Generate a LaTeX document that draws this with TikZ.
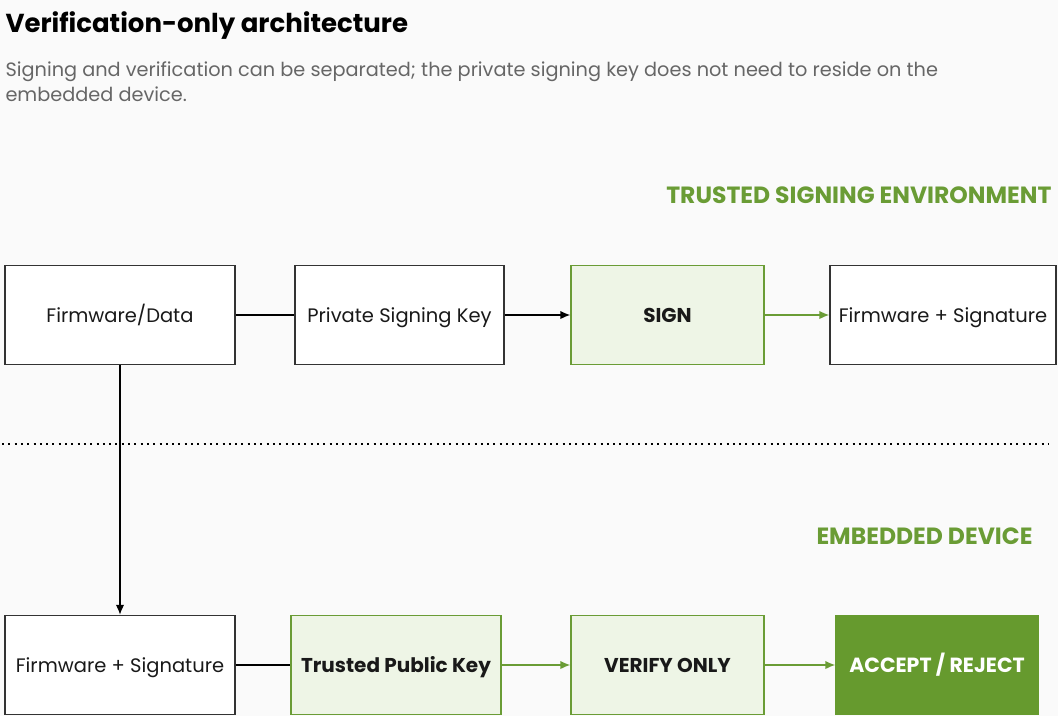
\documentclass[tikz,border=0pt]{standalone}
\usepackage{fontspec}
\setmainfont{Poppins}
\usepackage{xcolor}
\usepackage{tikz}
\usetikzlibrary{positioning,arrows.meta}

\definecolor{pagebg}{HTML}{FAFAFA}
\definecolor{boxline}{HTML}{333333}
\definecolor{leaf}{HTML}{6A9C35}
\definecolor{leaflight}{HTML}{EEF5E6}
\definecolor{leafdark}{HTML}{669A2E}
\definecolor{subgray}{HTML}{666666}

\tikzset{
  box/.style={draw=boxline, line width=1.4pt, fill=white, minimum height=99pt,
    inner sep=0pt, text height=17pt, text depth=2pt,
    font=\fontsize{19.5}{22}\selectfont, text=black!90},
  greenbox/.style={box, draw=leaf, fill=leaflight, font=\fontsize{20}{24}\selectfont\bfseries},
  solidbox/.style={box, draw=leafdark, fill=leafdark, text=white, font=\fontsize{20.5}{24}\selectfont\bfseries},
  zone/.style={anchor=east, text=leaf, font=\fontsize{23.5}{27}\selectfont\bfseries},
  link/.style={line width=1.4pt, draw=black},
  flow/.style={link, -{Latex[length=10pt,width=8.5pt]}},
  greenflow/.style={line width=1.4pt, draw=leaf, -{Latex[length=10pt,width=8.5pt]}, color=leaf}
}

\begin{document}
\begin{tikzpicture}[x=1pt,y=-1pt]
\fill[pagebg] (0,0) rectangle (1058,716);
\useasboundingbox (0,0) rectangle (1058,716);

% heading
\node[anchor=west, font=\fontsize{26}{30}\selectfont\bfseries] (title) at (2,26) {Verification-only architecture};
\node[anchor=north west, align=left, text=subgray, font=\fontsize{19.3}{25}\selectfont] (subtitle) at (2,58)
  {Signing and verification can be separated; the private signing key does not need to reside on the\\embedded device.};

% zone labels
\node[zone] (trusted) at (1055,195) {TRUSTED SIGNING ENVIRONMENT};
\node[zone] (device) at (1036,536) {EMBEDDED DEVICE};

% separator
\coordinate (sepL) at (2,444);
\coordinate (sepR) at (1048,444);
\draw[line width=2pt, dash pattern=on 2pt off 4.3pt] (sepL) -- (sepR);

% signing side
\node[box, minimum width=230pt] (data) at (120,315) {Firmware/Data};
\node[box, minimum width=209pt] (privkey) at (399.5,315) {Private Signing Key};
\node[greenbox, minimum width=193pt] (sign) at (667.5,315) {SIGN};
\node[box, minimum width=226pt] (signed) at (943,315) {Firmware + Signature};

% device side
\node[box, minimum width=230pt] (received) at (120,665) {Firmware + Signature};
\node[greenbox, minimum width=210pt] (pubkey) at (396,665) {Trusted Public Key};
\node[greenbox, minimum width=193pt] (verify) at (667.5,665) {VERIFY ONLY};
\node[solidbox, minimum width=202pt] (result) at (937,665) {ACCEPT / REJECT};

% connectors
\draw[link] (data) -- (privkey);
\draw[flow] (privkey) -- (sign);
\draw[greenflow] (sign) -- (signed);
\draw[flow] (data) -- (received);
\draw[link] (received) -- (pubkey);
\draw[greenflow] (pubkey) -- (verify);
\draw[greenflow] (verify) -- (result);
\end{tikzpicture}
\end{document}
